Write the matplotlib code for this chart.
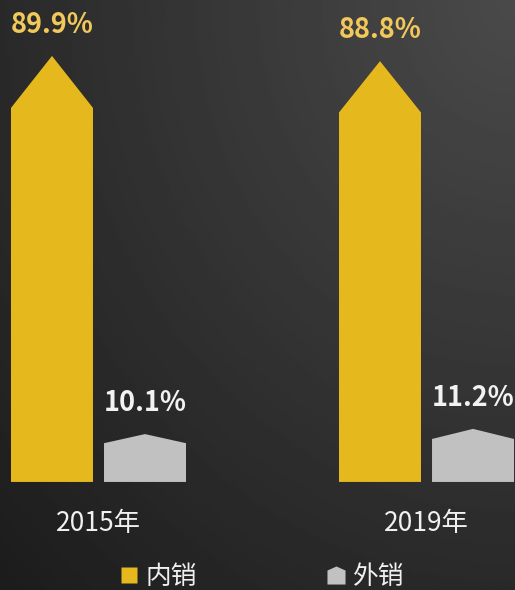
import numpy as np
import matplotlib.pyplot as plt
from matplotlib.patches import Polygon
from matplotlib.lines import Line2D

plt.rcParams['font.family'] = ['Noto Sans CJK SC', 'DejaVu Sans']

# data
years = ['2015年', '2019年']
series = ['内销', '外销']
domestic = [89.9, 88.8]
export = [10.1, 11.2]

colors = ['#E5B81E', '#C1C1C1']
label_colors = ['#F2C85A', '#F2F2F2']
head_frac = [0.122, 0.19]   # arrow head height relative to bar height

fig = plt.figure(figsize=(5.15, 5.9), dpi=100)

# background gradient, light in the top right corner
bg = fig.add_axes([0, 0, 1, 1])
yy, xx = np.mgrid[0:1:200j, 0:1:200j]
d = np.sqrt((1 - xx) ** 2 + yy ** 2) / np.sqrt(2)
bg.imshow(0.29 - 0.18 * d, cmap='gray', vmin=0, vmax=1, extent=[0, 1, 0, 1],
          aspect='auto', origin='upper')
bg.axis('off')

ax = fig.add_axes([0, 0, 1, 1])
ax.set_facecolor('none')
ax.set_xlim(-0.3003, 1.2698)
ax.set_ylim(-22.8, 101.7)
ax.axis('off')

width = 0.25
offsets = [-0.1418, 0.1418]

for s, vals in enumerate([domestic, export]):
    for i, v in enumerate(vals):
        xc = i + offsets[s]
        x0, x1 = xc - width / 2, xc + width / 2
        sh = v * (1 - head_frac[s])
        poly = Polygon([(x0, 0), (x1, 0), (x1, sh), (xc, v), (x0, sh)],
                       closed=True, facecolor=colors[s], edgecolor='none')
        ax.add_patch(poly)
        ax.annotate(f'{v}%', (xc, v), xytext=(0, 16.5), textcoords='offset points',
                    ha='center', va='baseline', fontsize=19.5, fontweight='bold',
                    color=label_colors[s])

for i, y in enumerate(years):
    ax.text(i, -8.8, y, ha='center', va='center', fontsize=19, color='#F0F0F0')

# legend
marker_pent = [(-1, -1), (1, -1), (1, 0.55), (0, 1), (-1, 0.55)]
handles = [Line2D([], [], linestyle='none', marker='s', markersize=12,
                  markerfacecolor=colors[0], markeredgecolor='none'),
           Line2D([], [], linestyle='none', marker=marker_pent, markersize=13,
                  markerfacecolor=colors[1], markeredgecolor='none')]
leg = fig.legend(handles, series, loc='center', bbox_to_anchor=(0.505, 0.022),
                 ncol=2, frameon=False, fontsize=18.5, labelcolor='#F0F0F0',
                 handletextpad=0.15, columnspacing=4.9, handlelength=1.0)

fig.savefig('out.png', dpi=100)
